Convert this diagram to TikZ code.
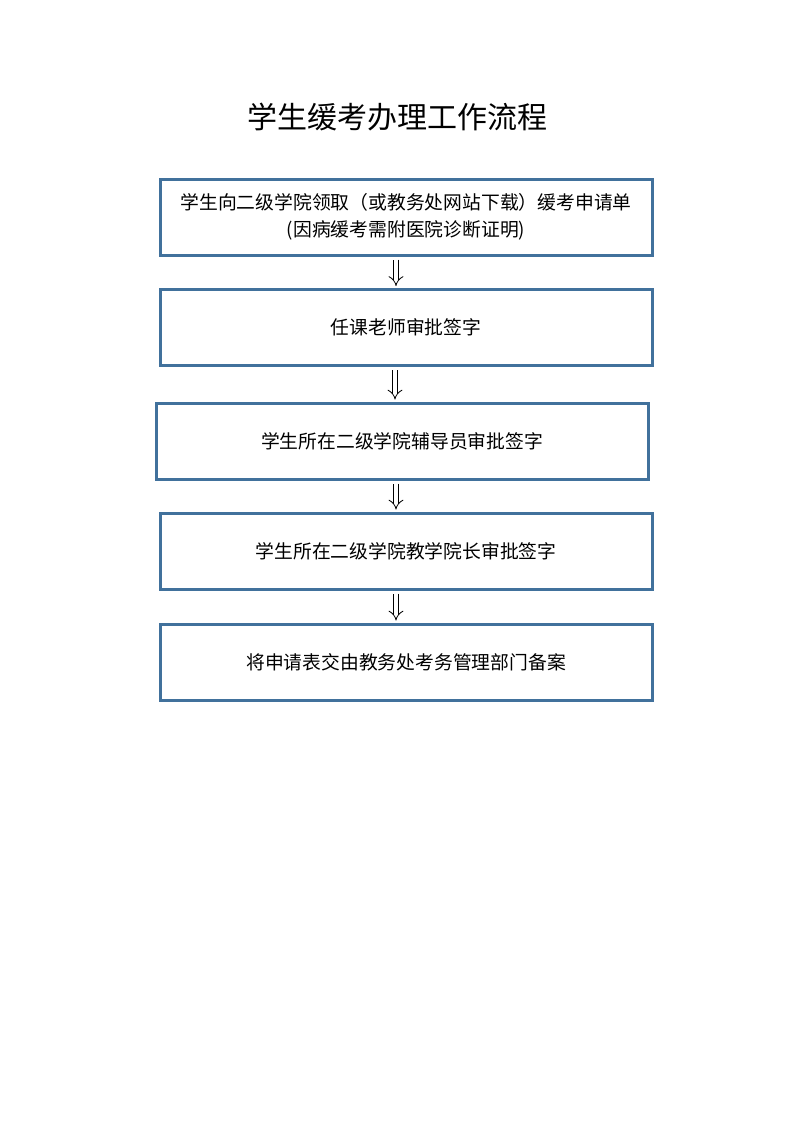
\documentclass[tikz,border=0pt]{standalone}
\usepackage{fontspec}
\setmainfont{Noto Sans CJK SC}
\usetikzlibrary{arrows.meta}
\definecolor{boxblue}{RGB}{65,113,156}
\tikzset{
  stepbox/.style={draw=boxblue, line width=3pt, minimum width=492pt, minimum height=76pt, inner sep=0pt, align=center, font=\fontsize{18.8pt}{27pt}\selectfont},
  flowarrow/.style={double, double distance=4.5pt, line width=0.8pt, -{Implies}, shorten <=3pt, shorten >=2pt},
}
\begin{document}
\begin{tikzpicture}[x=1pt,y=-1pt]
\useasboundingbox (0,0) rectangle (793,1122);
\node (title) at (397,117) {\fontsize{30pt}{36pt}\selectfont 学生缓考办理工作流程};
\node[stepbox] (b1) at (406,217) {学生向二级学院领取（或教务处网站下载）缓考申请单\\(因病缓考需附医院诊断证明)};
\node[stepbox] (b2) at (406,327.5) {任课老师审批签字};
\node[stepbox] (b3) at (402,441) {学生所在二级学院辅导员审批签字};
\node[stepbox] (b4) at (406,551) {学生所在二级学院教学院长审批签字};
\node[stepbox] (b5) at (406,662) {将申请表交由教务处考务管理部门备案};
\draw[flowarrow] (396,0 |- b1.south) -- (396,0 |- b2.north);
\draw[flowarrow] (395,0 |- b2.south) -- (395,0 |- b3.north);
\draw[flowarrow] (396,0 |- b3.south) -- (396,0 |- b4.north);
\draw[flowarrow] (396,0 |- b4.south) -- (396,0 |- b5.north);
\end{tikzpicture}
\end{document}
